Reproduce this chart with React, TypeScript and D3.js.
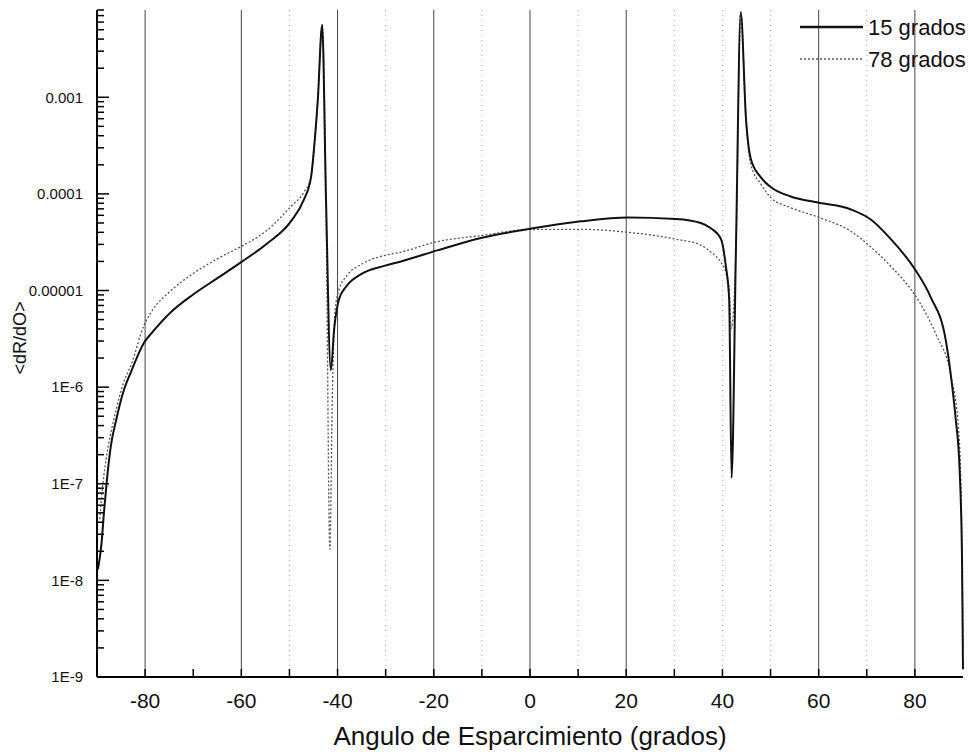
import React, { useEffect, useRef } from 'react';
import * as d3 from 'd3';

// 15 grados (solid)
const angles15 = [
  -89.8, -89.1, -88.5, -87.9, -87.1, -86.0, -84.6, -82.9, -80.2, -78.7, -74.6, -70.0, -65.2, -59.8,
  -54.9, -49.7, -47.0, -45.5, -44.9, -44.1, -43.2, -42.4, -41.4, -40.7, -39.7, -38.2, -35.1, -30.3,
  -26.8, -19.3, -10.2, 0.6, 10.6, 20.4, 30.3, 35.5, 37.6, 39.7, 40.7, 41.4, 41.9, 42.8, 43.8, 44.9,
  45.9, 48.0, 50.1, 54.2, 60.1, 66.7, 70.9, 75.0, 80.0, 83.3, 86.4, 87.5, 88.5, 89.3, 89.8, 90.0,
];
const values15 = [
  1.3e-8, 2.3e-8, 5.4e-8, 1.15e-7, 2.5e-7, 4.6e-7, 8.7e-7, 1.45e-6, 2.9e-6, 3.6e-6, 6.0e-6, 9.1e-6, 1.32e-5, 2.0e-5,
  3.0e-5, 5.2e-5, 8.7e-5, 1.5e-4, 2.9e-4, 9.5e-4, 5.6e-3, 8.7e-5, 1.5e-6, 4.0e-6, 8.1e-6, 1.1e-5, 1.48e-5, 1.8e-5,
  2.0e-5, 2.6e-5, 3.5e-5, 4.4e-5, 5.2e-5, 5.7e-5, 5.5e-5, 5.0e-5, 4.4e-5, 3.4e-5, 1.8e-5, 8.1e-6, 1.15e-7, 2.6e-5, 7.6e-3, 5.9e-4,
  2.3e-4, 1.48e-4, 1.17e-4, 9.4e-5, 8.1e-5, 6.9e-5, 5.4e-5, 3.4e-5, 1.66e-5, 8.5e-6, 3.1e-6, 1.3e-6, 4.6e-7, 1.4e-7, 1.6e-8, 1.2e-9,
];

// 78 grados (dotted)
const angles78 = [
  -89.4, -89.1, -88.1, -87.1, -86.0, -84.6, -82.9, -80.2, -78.7, -74.6, -70.0, -65.2, -59.8, -54.9,
  -49.7, -47.0, -45.5, -44.9, -44.1, -43.2, -42.4, -41.6, -41.1, -40.5, -39.7, -38.2, -35.1, -30.3,
  -26.8, -19.3, -10.2, 0.6, 10.6, 20.4, 30.3, 35.5, 37.6, 39.7, 40.7, 41.4, 41.8, 42.8, 43.8, 44.9,
  45.9, 48.0, 50.1, 54.2, 60.1, 66.7, 70.9, 75.0, 80.6, 84.4, 87.5, 89.1, 89.7, 90.0,
];
const values78 = [
  4.3e-8, 6.8e-8, 1.8e-7, 3.4e-7, 5.9e-7, 1.07e-6, 1.7e-6, 4.4e-6, 6.0e-6, 1.0e-5, 1.5e-5, 2.1e-5, 2.9e-5, 4.1e-5,
  7.4e-5, 1.04e-4, 1.5e-4, 2.9e-4, 9.5e-4, 5.6e-3, 8.7e-5, 2.1e-8, 7.4e-7, 6.3e-6, 1.02e-5, 1.4e-5, 1.86e-5, 2.3e-5,
  2.5e-5, 3.2e-5, 3.7e-5, 4.3e-5, 4.3e-5, 4.0e-5, 3.4e-5, 2.95e-5, 2.5e-5, 1.95e-5, 1.55e-5, 1.02e-5, 4.0e-6, 2.6e-5, 7.6e-3, 5.9e-4,
  2.0e-4, 1.26e-4, 9.1e-5, 7.2e-5, 5.7e-5, 4.1e-5, 2.8e-5, 1.78e-5, 8.1e-6, 3.5e-6, 1.3e-6, 3.6e-7, 4.3e-8, 2e-9,
];

const xTickValues = [-80, -60, -40, -20, 0, 20, 40, 60, 80];
const gridSolid = [-80, -60, -40, -20, 0, 20, 60, 80];
const gridDotted = [-50, -30, -10, 10, 30, 40, 50, 70];
const yTickValues = [1e-9, 1e-8, 1e-7, 1e-6, 1e-5, 1e-4, 1e-3];
const yTickLabels = ['1E-9', '1E-8', '1E-7', '1E-6', '0.00001', '0.0001', '0.001'];

const FONT = 'Arial, "Liberation Sans", sans-serif';

export default function App() {
  const svgRef = useRef<SVGSVGElement | null>(null);

  useEffect(() => {
    document.body.style.margin = '0';
    if (!svgRef.current) return;
    const svg = d3.select(svgRef.current);
    svg.selectAll('*').remove();

    const left = 97, right = 963, top = 10, bottom = 677;

    const x = d3.scaleLinear().domain([-90, 90]).range([left, right]);
    const y = d3.scaleLog().domain([1e-9, 8e-3]).range([bottom, top]);

    svg.append('rect').attr('width', 974).attr('height', 754).attr('fill', '#fff');

    svg.append('defs').append('clipPath').attr('id', 'plot-clip')
      .append('rect').attr('x', left).attr('y', top - 2).attr('width', right - left + 2).attr('height', bottom - top + 2);

    // Gridlines
    svg.append('g').selectAll('line').data(gridSolid).join('line')
      .attr('x1', d => x(d)).attr('x2', d => x(d))
      .attr('y1', top).attr('y2', bottom)
      .attr('stroke', '#444').attr('stroke-width', 1);
    svg.append('g').selectAll('line').data(gridDotted).join('line')
      .attr('x1', d => x(d)).attr('x2', d => x(d))
      .attr('y1', top).attr('y2', bottom)
      .attr('stroke', '#aaa').attr('stroke-width', 1).attr('stroke-dasharray', '1,4');

    // Curves
    const line = d3.line<[number, number]>()
      .x(d => x(d[0]))
      .y(d => y(d[1]))
      .curve(d3.curveMonotoneX);

    const plot = svg.append('g').attr('clip-path', 'url(#plot-clip)');
    plot.append('path')
      .datum(angles78.map((a, i) => [a, values78[i]] as [number, number]))
      .attr('fill', 'none').attr('stroke', '#555').attr('stroke-width', 1.3)
      .attr('stroke-dasharray', '2,2')
      .attr('d', line);
    plot.append('path')
      .datum(angles15.map((a, i) => [a, values15[i]] as [number, number]))
      .attr('fill', 'none').attr('stroke', '#111').attr('stroke-width', 2)
      .attr('d', line);

    // X axis (ticks inward)
    const xAxis = svg.append('g');
    xAxis.append('line').attr('x1', left).attr('x2', right).attr('y1', bottom).attr('y2', bottom)
      .attr('stroke', '#000').attr('stroke-width', 2);
    xAxis.selectAll('line.tick').data(d3.range(-80, 81, 10)).join('line')
      .attr('class', 'tick')
      .attr('x1', d => x(d)).attr('x2', d => x(d))
      .attr('y1', bottom).attr('y2', bottom - 8)
      .attr('stroke', '#000').attr('stroke-width', 1.5);
    xAxis.selectAll('text').data(xTickValues).join('text')
      .attr('x', d => x(d)).attr('y', 708)
      .attr('text-anchor', 'middle')
      .attr('font-family', FONT).attr('font-size', 21).attr('fill', '#111')
      .text(d => String(d));

    // Y axis (ticks inward)
    const yAxis = svg.append('g');
    yAxis.append('line').attr('x1', left).attr('x2', left).attr('y1', top).attr('y2', bottom)
      .attr('stroke', '#000').attr('stroke-width', 2);
    const minor: number[] = [];
    for (let e = -9; e <= -3; e++) {
      for (let m = 2; m <= 9; m++) {
        const v = m * Math.pow(10, e);
        if (v <= 8e-3) minor.push(v);
      }
    }
    yAxis.selectAll('line.minor').data(minor).join('line')
      .attr('class', 'minor')
      .attr('x1', left).attr('x2', left + 7)
      .attr('y1', d => y(d)).attr('y2', d => y(d))
      .attr('stroke', '#000').attr('stroke-width', 1.5);
    yAxis.selectAll('line.major').data(yTickValues).join('line')
      .attr('class', 'major')
      .attr('x1', left).attr('x2', left + 12)
      .attr('y1', d => y(d)).attr('y2', d => y(d))
      .attr('stroke', '#000').attr('stroke-width', 1.5);
    yAxis.selectAll('text').data(yTickValues).join('text')
      .attr('x', 83).attr('y', d => y(d))
      .attr('dy', '0.35em')
      .attr('text-anchor', 'end')
      .attr('font-family', FONT).attr('font-size', 15).attr('fill', '#111')
      .text((_, i) => yTickLabels[i]);

    // Axis titles
    svg.append('text')
      .attr('x', (left + right) / 2).attr('y', 745)
      .attr('text-anchor', 'middle')
      .attr('font-family', FONT).attr('font-size', 26).attr('fill', '#111')
      .text('Angulo de Esparcimiento (grados)');
    svg.append('text')
      .attr('transform', 'translate(20,338) rotate(-90)')
      .attr('text-anchor', 'middle').attr('dy', '0.35em')
      .attr('font-family', FONT).attr('font-size', 18).attr('fill', '#111')
      .text('<dR/dO>');

    // Legend
    const legend = svg.append('g');
    legend.append('line').attr('x1', 800).attr('x2', 863).attr('y1', 27).attr('y2', 27)
      .attr('stroke', '#111').attr('stroke-width', 2.5);
    legend.append('line').attr('x1', 800).attr('x2', 863).attr('y1', 59).attr('y2', 59)
      .attr('stroke', '#555').attr('stroke-width', 1.3).attr('stroke-dasharray', '2,2');
    legend.append('text').attr('x', 868).attr('y', 27).attr('dy', '0.35em')
      .attr('font-family', FONT).attr('font-size', 22).attr('fill', '#111').text('15 grados');
    legend.append('text').attr('x', 868).attr('y', 59).attr('dy', '0.35em')
      .attr('font-family', FONT).attr('font-size', 22).attr('fill', '#111').text('78 grados');
  }, []);

  return <svg ref={svgRef} width={974} height={754} style={{ display: 'block' }} />;
}
